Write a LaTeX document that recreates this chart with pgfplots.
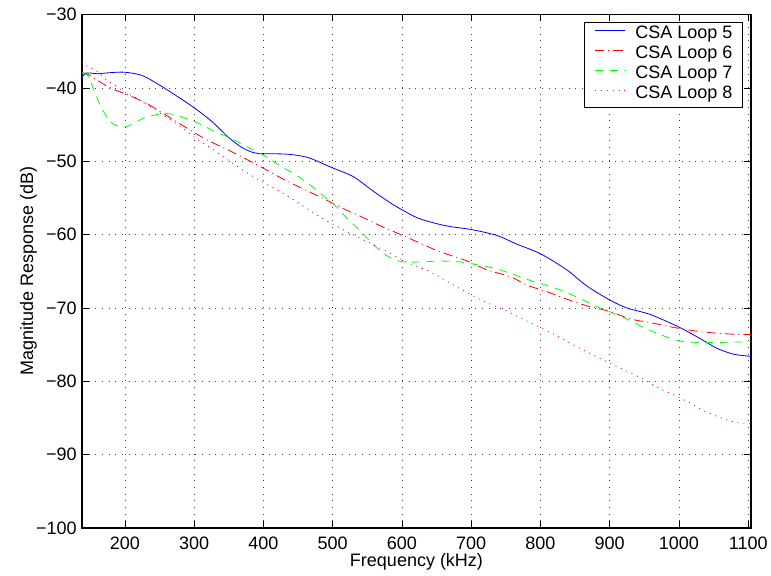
\documentclass[border=0pt]{standalone}
\usepackage{fontspec}
\setmainfont{Liberation Sans}
\usepackage{pgfplots}
\pgfplotsset{compat=1.18}
\begin{document}
\begin{tikzpicture}
\begin{axis}[
  name=ax,
  scale only axis,
  width=501.75pt, height=385pt,
  xmin=138, xmax=1104, ymin=-100, ymax=-30,
  xtick={200,300,400,500,600,700,800,900,1000,1100},
  xticklabels={200,300,400,500,600,700,800,900,1000,1100},
  ytick={-100,-90,-80,-70,-60,-50,-40,-30},
  yticklabels={−100,−90,−80,−70,−60,−50,−40,−30},
  scaled x ticks=false, scaled y ticks=false,
  tick align=inside, major tick length=5pt,
  tick style={black, line width=0.6pt},
  axis line style={black, line width=0.9pt},
  grid=major,
  major grid style={black!75, line width=0.5pt, dash pattern=on 0.7pt off 4.3pt},
  tick label style={font=\fontsize{13.5}{16}\selectfont},
  xticklabel style={inner sep=0pt, yshift=-6.5pt},
  yticklabel style={inner sep=0pt, xshift=-3.75pt},
  xlabel={Frequency (kHz)},
  ylabel={Magnitude Response (dB)},
  label style={font=\fontsize{13.5}{16}\selectfont, inner sep=0pt},
  x label style={at={(axis description cs:0.5,-0.0753)}, anchor=base},
  y label style={at={(axis description cs:-0.0732,0.5)}, anchor=base},
  legend style={at={(axis description cs:1,1)}, anchor=north east,
    xshift=-6pt, yshift=-5.25pt, draw=black, line width=0.75pt,
    font=\fontsize{13.5}{15}\selectfont,
    inner xsep=7.5pt, inner ysep=2pt, row sep=0pt, column sep=7.5pt,
    nodes={inner sep=0pt, text height=10pt, text depth=5pt}},
  legend cell align=left,
  legend image code/.code={\draw[#1] (0pt,3.5pt) -- (22.5pt,3.5pt);},
]
\addplot[blue, line width=0.6pt, smooth] coordinates {
(138,-38.5) (145,-37.95) (160,-38.05) (180,-37.9) (200,-37.85) (225,-38.3)
(250,-39.6) (275,-41.1) (300,-42.7) (326,-44.6) (348,-46.6) (367,-48.0)
(385,-48.8) (400,-48.95) (430,-49.0) (450,-49.2) (468,-49.6) (500,-50.9)
(530,-52.1) (559,-54.1) (584,-55.7) (600,-56.6) (622,-57.7) (646,-58.4)
(670,-58.9) (700,-59.3) (737,-60.1) (766,-61.3) (800,-62.6) (838,-64.8)
(867,-67.0) (900,-68.9) (925,-70.0) (959,-70.9) (1000,-72.6) (1031,-74.2)
(1055,-75.5) (1079,-76.3) (1104,-76.6)};
\addlegendentry{CSA Loop 5}
\addplot[red, line width=0.6pt, smooth, dash pattern=on 7pt off 3pt on 0.8pt off 3pt] coordinates {
(138,-38.0) (146,-38.1) (177,-39.9) (206,-41.0) (235,-42.3) (264.5,-44.0)
(290,-45.5) (317,-47.0) (346,-48.3) (373,-49.6) (401,-51.0) (428,-52.4)
(456,-53.7) (485,-55.0) (512,-56.3) (540,-57.5) (569,-58.8) (596,-59.9)
(625,-61.1) (654,-62.3) (692,-63.5) (723,-64.8) (757,-65.75) (781,-66.9)
(810,-67.8) (838,-68.8) (867,-69.7) (901,-70.5) (930,-71.5) (959,-72.0)
(990,-72.6) (1021,-73.1) (1050,-73.4) (1084,-73.6) (1104,-73.6)};
\addlegendentry{CSA Loop 6}
\addplot[green, line width=0.6pt, smooth, dash pattern=on 6pt off 5pt] coordinates {
(138,-37.9) (147,-38.4) (155.7,-40.4) (165,-42.5) (178,-44.5) (190,-45.2)
(200,-45.3) (212,-44.9) (227,-44.1) (253,-43.5) (270,-43.6) (282,-43.95)
(306,-44.8) (329,-45.9) (354,-46.9) (376,-48.0) (401,-49.2) (422,-50.5)
(444,-51.7) (463,-52.9) (485,-54.6) (503,-56.0) (522,-57.9) (539,-59.4)
(558,-61.3) (577,-62.8) (595,-63.6) (610,-63.75) (630,-63.7) (655,-63.6)
(682,-63.7) (708,-64.1) (734,-64.6) (760,-65.4) (784,-66.2) (809,-66.9)
(833,-67.7) (857,-68.7) (881,-69.8) (905,-70.7) (929,-71.7) (950,-72.7)
(975,-73.7) (1001,-74.5) (1028,-74.7) (1055,-74.7) (1080,-74.65) (1104,-74.6)};
\addlegendentry{CSA Loop 7}
\addplot[magenta, line width=0.6pt, smooth, dash pattern=on 0.8pt off 3.6pt] coordinates {
(138,-36.4) (145,-37.0) (161,-37.8) (173,-38.9) (185,-39.6) (199,-40.5)
(222,-41.65) (250,-43.35) (280,-45.25) (303,-46.9) (326,-48.3) (350,-49.9)
(377,-51.6) (400,-52.9) (424,-54.1) (446,-55.4) (472,-57.0) (497,-58.4)
(525,-59.8) (553,-61.1) (582,-62.5) (608,-63.8) (637,-64.9) (664,-66.3)
(692,-67.8) (721,-69.2) (752,-70.45) (783,-71.9) (818,-73.5) (847,-75.0)
(880,-76.6) (911,-78.0) (944,-79.5) (973,-81.0) (1000,-82.2) (1017,-83.0)
(1033,-83.9) (1050,-84.6) (1070,-85.3) (1089,-85.7) (1104,-85.7)};
\addlegendentry{CSA Loop 8}
\end{axis}
\path (ax.south west) ++(-61.5pt,-35.25pt) rectangle ++(578.25pt,431.25pt);
\end{tikzpicture}
\end{document}
